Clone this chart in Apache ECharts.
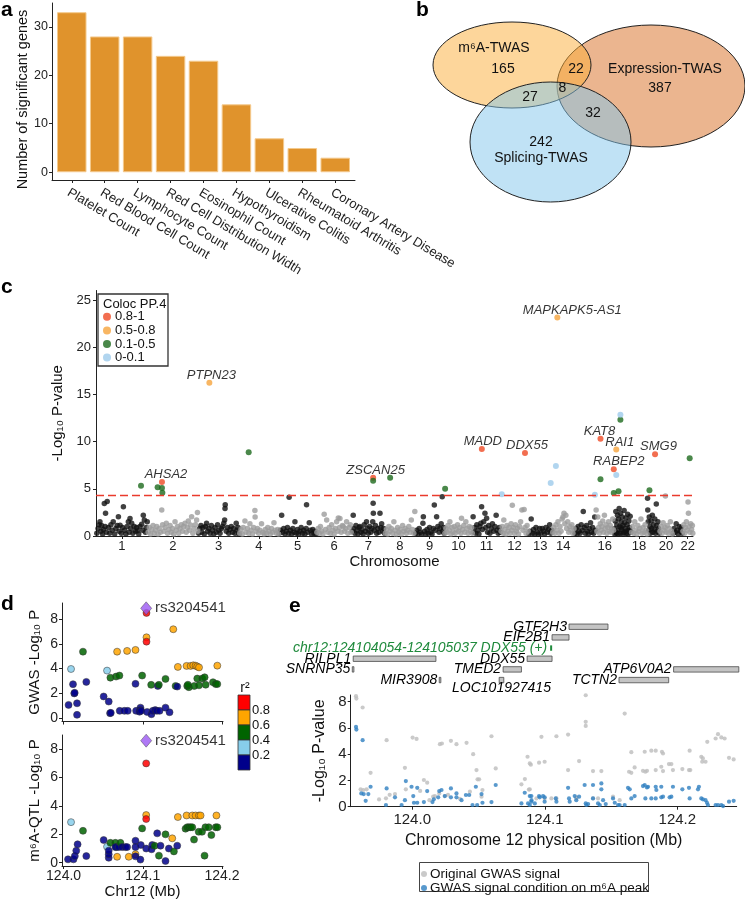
<!DOCTYPE html>
<html>
<head>
<meta charset="utf-8">
<script src="https://cdn.jsdelivr.net/npm/echarts@6/dist/echarts.min.js"></script>
<style>
  html, body { margin: 0; padding: 0; background: #fff; }
  #fig { width: 745px; height: 900px; }
</style>
</head>
<body>
<div id="fig"></div>
<script>
// ---------- panel a : significant genes per trait ----------
const traits = ['Platelet Count', 'Red Blood Cell Count', 'Lymphocyte Count', 'Red Cell Distribution Width',
  'Eosinophil Count', 'Hypothyroidism', 'Ulcerative Colitis', 'Rheumatoid Arthritis', 'Coronary Artery Disease'];
const sigGeneCounts = [33, 28, 28, 24, 23, 14, 7, 5, 3];

// ---------- panel b : venn ----------
const twasSets = ['m⁶A-TWAS', 'Expression-TWAS', 'Splicing-TWAS'];
// m6A only, expression only, splicing only, m6A&expr, m6A&splicing, expr&splicing, all three
const vennCounts = [165, 387, 242, 22, 27, 32, 8];

// ---------- panel c : manhattan ----------
const chrLengthsMb = [249, 243, 198, 191, 181, 171, 159, 146, 141, 136, 135, 134, 115, 107, 102, 90, 81, 78, 59, 63, 48, 51];
const chrLabelled = [1, 2, 3, 4, 5, 6, 7, 8, 9, 10, 11, 12, 13, 14, 16, 18, 20, 22];
const colocClasses = ['0.8-1', '0.5-0.8', '0.1-0.5', '0-0.1'];
const gwThreshold = 4.34;
// [chromosome, position (Mb), -log10 P, coloc class, gene]
const colocSnps = [
  [1, 217, 5.33, 2], [2, 48, 5.16, 2], [2, 69, 5.72, 0, 'AHSA2'], [2, 69, 5.08, 2], [2, 71, 4.59, 2],
  [3, 54.5, 16.24, 1, 'PTPN23'], [4, 46, 8.86, 2], [7, 103, 6.18, 0, 'ZSCAN25'], [7, 103, 5.86, 2],
  [8, 26, 6.18, 2], [10, 4, 5.01, 2], [11, 45, 9.22, 0, 'MADD'], [12, 6, 4.41, 3],
  [12, 118, 8.79, 0, 'DDX55'], [13, 108, 5.61, 3], [14, 18, 7.42, 3], [14, 25, 23.13, 1, 'MAPKAPK5-AS1'],
  [15, 99, 4.38, 3], [16, 24, 10.31, 0, 'KAT8'], [16, 24, 6.0, 2], [16, 88, 7.06, 0, 'RABEP2'],
  [16, 88, 4.56, 2], [17, 10, 9.15, 1, 'RAI1'], [17, 10, 6.46, 3], [17, 21, 4.73, 2],
  [17, 30, 12.85, 3], [17, 30, 12.32, 2], [19, 11, 4.84, 2], [19, 38, 8.65, 0, 'SMG9'], [22, 35, 8.23, 2]
];
// background SNPs per chromosome: [position (Mb), -log10 P]
const bgSnps = [
  [[4,0.3],[10,0.8],[15,1.2],[19,1.5],[24,0.5],[27,1.1],[32,0.2],[36,0.7],[40,3.45],[44,1.0],[46,2.4],[50,0.4],[54,3.65],[60,0.9],[66,0.3],[72,1.2],[78,0.6],[83,1.5],[90,0.2],[96,0.8],[102,1.1],[108,2.05],[112,0.5],[116,1.15],[122,0.3],[128,0.9],[132,3.1],[138,0.6],[144,0.2],[150,1.0],[156,1.5],[160,0.4],[164,1.85],[168,0.8],[172,1.35],[178,0.3],[184,1.0],[190,0.5],[196,0.9],[200,0.55],[206,0.2],[212,1.0],[220,1.25],[225,0.6],[228,2.2],[233,1.7],[238,0.4],[242,0.9],[247,1.5]],
  [[3,0.4],[8,0.9],[14,0.2],[20,0.7],[26,1.1],[32,0.3],[38,0.6],[44,1.0],[50,0.2],[56,0.8],[62,0.4],[68,2.75],[72,1.2],[78,0.5],[84,0.9],[90,1.35],[96,0.3],[102,0.7],[108,1.1],[114,0.4],[120,0.8],[126,0.2],[132,1.5],[138,0.6],[144,1.0],[150,0.3],[156,0.8],[162,1.2],[168,0.5],[174,1.0],[180,1.34],[186,0.4],[192,0.9],[196,1.6],[202,0.6],[207,1.17],[212,2.05],[218,0.3],[224,0.8],[230,1.2],[236,1.7],[240,2.5],[242,0.5]],
  [[3,0.3],[8,0.8],[14,1.1],[18,0.4],[24,0.9],[30,0.2],[36,1.0],[41,1.35],[46,0.5],[52,0.8],[58,0.3],[64,1.1],[70,0.6],[76,0.2],[82,0.9],[88,0.4],[94,1.2],[100,0.6],[106,0.3],[112,0.8],[118,1.0],[124,1.34],[128,1.7],[130,2.9],[131,3.3],[136,0.5],[142,0.9],[148,0.3],[154,0.7],[160,1.0],[166,0.4],[172,0.8],[178,0.3],[184,1.34],[188,0.6],[193,0.9],[197,0.2]],
  [[3,0.3],[9,0.7],[15,0.2],[20,0.9],[28,1.6],[33,0.4],[40,0.8],[46,0.3],[52,1.3],[58,0.6],[64,0.2],[70,0.9],[76,2.7],[77,2.0],[82,0.5],[88,0.8],[94,0.3],[100,0.6],[108,1.3],[114,0.4],[120,0.2],[126,0.7],[132,0.3],[138,0.9],[144,0.5],[150,0.2],[156,0.8],[162,0.4],[168,1.4],[174,0.6],[180,0.3],[186,0.7],[190,0.2]],
  [[3,0.3],[8,0.6],[14,2.2],[18,0.4],[24,0.8],[30,0.2],[36,0.5],[42,0.9],[48,0.3],[50,4.1],[56,0.6],[62,0.2],[68,0.8],[74,0.4],[78,1.5],[84,0.3],[90,0.7],[96,0.2],[102,0.5],[108,0.9],[114,0.3],[120,0.6],[126,0.2],[132,0.8],[134,3.3],[140,0.4],[147,1.4],[152,0.6],[158,0.2],[164,0.7],[170,0.3],[176,0.5],[180,0.2]],
  [[3,0.4],[9,0.8],[14,0.3],[20,1.0],[26,0.5],[32,0.2],[38,2.3],[44,0.7],[50,1.7],[56,0.4],[62,0.9],[68,0.3],[74,1.2],[80,0.6],[86,0.2],[92,0.8],[98,1.5],[104,0.5],[106,1.9],[112,0.9],[114,1.85],[120,0.4],[126,1.1],[130,1.0],[136,0.5],[142,0.8],[146,1.5],[152,0.3],[158,0.9],[164,1.2],[168,0.4]],
  [[3,0.5],[7,2.2],[10,0.8],[15,0.3],[20,1.1],[25,0.6],[30,0.2],[35,0.9],[39,1.0],[44,0.4],[50,0.7],[55,0.2],[60,1.2],[66,0.5],[71,1.5],[76,0.8],[80,0.3],[86,1.0],[92,0.4],[97,0.8],[101,1.5],[103,3.46],[104,2.4],[108,0.6],[114,1.1],[120,0.3],[126,0.8],[131,0.4],[136,2.4],[140,0.9],[144,1.3],[149,0.5],[154,0.8],[158,0.3]],
  [[3,0.3],[8,0.7],[14,0.2],[20,1.0],[26,0.5],[32,0.8],[38,0.3],[44,1.5],[50,0.6],[56,0.2],[62,0.9],[68,0.4],[74,0.7],[80,0.2],[86,1.1],[92,0.5],[98,0.8],[104,0.3],[110,0.6],[116,1.0],[122,0.4],[128,1.7],[134,0.7],[140,0.3],[145,2.6]],
  [[3,0.3],[8,0.6],[14,0.2],[20,0.8],[26,0.4],[32,0.2],[38,1.34],[40,2.05],[46,0.5],[52,0.2],[58,0.7],[64,0.3],[70,0.9],[76,0.4],[82,0.2],[88,0.8],[93,3.28],[98,0.6],[104,2.05],[110,1.0],[116,0.4],[120,0.8],[126,1.3],[131,4.17],[134,0.5],[138,0.9],[140,0.3]],
  [[3,0.3],[8,0.8],[13,0.4],[18,1.1],[24,0.6],[27,1.5],[32,0.2],[37,0.9],[42,0.4],[48,1.0],[53,0.3],[58,0.7],[64,1.2],[69,0.5],[74,0.9],[80,0.3],[83,1.87],[88,0.7],[94,1.1],[99,0.4],[104,1.5],[110,0.8],[115,0.3],[120,1.0],[126,0.5],[131,0.9],[135,0.3]],
  [[3,2.05],[6,0.4],[11,0.9],[16,0.3],[21,1.2],[26,0.6],[31,0.2],[36,1.0],[40,1.34],[44,3.1],[48,0.7],[54,1.5],[60,2.4],[64,0.9],[68,1.87],[73,0.4],[78,1.1],[84,0.3],[90,0.8],[96,1.3],[102,0.5],[108,1.0],[114,2.2],[118,0.6],[124,0.3],[129,0.9],[134,0.4]],
  [[3,0.5],[8,1.0],[13,0.3],[16,1.7],[21,0.7],[26,0.2],[31,1.1],[36,0.5],[41,0.9],[46,0.3],[51,1.3],[55,0.6],[57,3.25],[62,0.9],[67,0.3],[72,1.2],[77,0.5],[82,0.8],[87,0.2],[92,1.0],[97,1.5],[103,2.75],[108,0.6],[114,2.8],[118,0.9],[123,0.3],[128,1.1],[133,0.5]],
  [[3,0.2],[8,0.5],[14,1.8],[19,0.3],[25,0.7],[31,0.2],[37,0.9],[43,0.4],[49,0.2],[55,0.8],[61,0.3],[67,0.8],[73,0.5],[79,0.2],[85,0.9],[91,0.4],[97,0.7],[103,1.2],[108,0.3],[113,0.6]],
  [[3,0.4],[8,0.9],[13,0.3],[18,1.2],[23,0.6],[28,1.5],[33,0.3],[38,1.0],[43,0.5],[48,1.8],[52,2.0],[57,2.4],[61,1.3],[66,2.2],[70,0.8],[75,1.5],[80,0.4],[85,1.0],[90,0.6],[95,1.2],[100,0.3],[105,0.8]],
  [[3,0.3],[8,0.8],[13,0.2],[18,1.0],[23,0.5],[28,0.3],[33,1.2],[38,0.6],[43,2.6],[48,0.9],[53,0.3],[58,1.1],[63,0.5],[68,0.2],[73,0.8],[78,1.4],[83,0.4],[88,0.9],[93,0.3],[98,2.0],[101,0.6]],
  [[3,2.75],[7,0.5],[11,2.0],[15,0.9],[19,0.3],[23,1.3],[27,0.6],[31,1.0],[35,1.6],[39,0.4],[43,2.2],[47,0.8],[51,1.2],[55,0.3],[59,0.9],[63,1.5],[67,0.5],[71,1.1],[75,0.4],[79,0.8],[83,1.8],[87,0.6]],
  [[2,0.8],[3,0.2],[5,1.6],[8,2.6],[10,0.4],[12,0.3],[13,1.2],[16,2.2],[18,0.6],[20,0.2],[21,1.8],[24,2.9],[26,1.0],[29,0.3],[31,2.4],[33,0.9],[34,1.5],[36,0.7],[39,2.0],[42,1.1],[44,0.2],[45,0.4],[48,2.7],[50,1.4],[53,0.8],[55,0.5],[56,1.9],[59,0.3],[62,1.2],[65,2.3],[67,0.2],[68,0.6],[71,1.6],[74,0.9],[76,0.6],[77,2.1],[80,0.4]],
  [[3,0.4],[8,1.0],[13,0.3],[18,1.5],[23,0.6],[28,0.2],[33,1.1],[38,0.5],[43,0.8],[48,1.8],[53,0.3],[58,0.9],[63,0.4],[68,1.2],[73,0.6],[77,0.2]],
  [[2,4.0],[3,2.75],[5,1.5],[8,0.6],[10,2.0],[13,1.0],[16,0.3],[19,1.6],[22,0.8],[25,2.2],[28,0.4],[31,1.2],[34,0.7],[37,1.8],[40,0.3],[44,3.4],[46,1.1],[49,0.5],[52,1.5],[55,0.8],[58,0.3]],
  [[3,0.5],[8,1.0],[13,0.3],[18,1.4],[23,0.6],[27,0.9],[29,4.24],[33,0.4],[38,1.1],[43,0.3],[48,0.8],[53,1.5],[58,0.5],[62,0.2]],
  [[3,0.3],[8,0.8],[13,0.4],[18,1.3],[23,0.6],[28,0.2],[33,1.0],[38,0.5],[43,0.9],[47,0.3]],
  [[3,0.5],[7,1.2],[11,0.3],[15,0.9],[19,1.5],[23,0.6],[27,3.6],[29,2.4],[32,1.0],[36,0.4],[40,1.3],[44,0.7],[48,1.1],[50,0.3]]
];

// ---------- panel d : locus plots, [position (Mb), -log10 P, r2 bin] ----------
const r2Breaks = ['0.2', '0.4', '0.6', '0.8'];
const leadSnp = 'rs3204541';
const leadSnpPos = 124.1043;
const leadGwasP = 8.87;
const leadQtlP = 8.6;
const gwasLocus = [
  [124.0063,1.07,0],[124.0094,3.97,1],[124.0119,2.74,0],[124.0135,2.0,0],[124.0140,2.05,0],[124.017,1.2,0],[124.017,0.27,0],
  [124.0245,5.37,2],[124.0287,2.93,0],[124.0506,1.75,0],[124.0549,3.84,1],[124.057,1.34,0],[124.0591,3.27,2],[124.0587,0.4,0],
  [124.0596,0.43,0],[124.0663,3.36,2],[124.0676,5.37,3],[124.0705,3.44,2],[124.0709,0.59,0],[124.0768,0.59,0],[124.081,0.59,0],
  [124.0802,5.43,3],[124.0908,5.51,3],[124.0908,2.77,0],[124.0916,0.59,0],[124.0971,0.85,0],[124.0971,0.65,0],[124.0963,0.59,0],
  [124.0959,0.52,0],[124.0979,0.59,0],[124.0992,3.44,2],[124.1047,6.53,3],[124.1047,6.18,4],[124.1047,8.5,4],[124.1055,0.5,0],
  [124.1106,2.69,2],[124.1109,0.32,0],[124.1127,0.59,0],[124.1157,0.65,0],[124.1178,0.59,0],[124.1212,0.59,0],[124.119,2.6,0],
  [124.1203,2.69,2],[124.1287,3.17,2],[124.1287,0.85,0],[124.1338,0.48,0],[124.1385,7.18,3],[124.1414,2.6,2],[124.1435,2.55,0],
  [124.1443,4.14,3],[124.1553,4.22,3],[124.1561,2.6,2],[124.1582,2.5,2],[124.157,2.7,2],[124.1604,4.22,3],[124.1638,4.27,3],
  [124.1667,4.24,3],[124.1688,4.17,3],[124.171,4.1,3],[124.165,2.6,2],[124.1688,3.2,2],[124.171,2.65,2],[124.1752,3.2,2],
  [124.1781,3.3,2],[124.1794,2.7,2],[124.1887,2.9,2],[124.1921,2.75,2],[124.1941,2.75,2],[124.1941,4.24,3]
];
const qtlLocus = [
  [124.0056,0.24,0],[124.0094,2.86,1],[124.0125,0.24,0],[124.0142,0.47,0],[124.016,0.85,0],[124.0177,1.3,0],[124.0245,2.25,2],
  [124.0287,0.47,0],[124.0506,1.6,0],[124.0549,1.13,1],[124.057,0.35,0],[124.057,0.6,0],[124.057,0.85,0],[124.0591,1.4,2],
  [124.0654,1.4,2],[124.0667,1.1,2],[124.0676,0.42,3],[124.0654,1.1,0],[124.0697,1.1,0],[124.0718,1.4,2],[124.074,1.1,0],
  [124.078,1.1,0],[124.0802,1.1,0],[124.0823,0.42,3],[124.0908,1.55,0],[124.0908,0.6,3],[124.0908,0.45,0],[124.0908,1.1,0],
  [124.097,0.22,0],[124.0992,2.42,2],[124.0975,1.25,0],[124.1043,7.0,4],[124.1043,3.36,3],[124.1043,3.08,4],[124.1043,1.0,0],
  [124.1111,0.95,0],[124.1119,1.25,0],[124.1182,2.07,0],[124.115,1.2,2],[124.1204,0.5,2],[124.1224,1.2,0],[124.1287,2.0,2],
  [124.1287,0.12,0],[124.1329,1.0,0],[124.1372,1.72,3],[124.1393,0.8,2],[124.1435,1.2,0],[124.1443,3.22,3],[124.154,2.4,2],
  [124.1561,2.5,2],[124.1583,2.5,2],[124.1604,2.5,2],[124.1625,2.5,2],[124.1553,3.33,3],[124.1625,3.33,3],[124.1667,3.33,3],
  [124.1709,3.33,3],[124.173,3.33,3],[124.1647,1.63,2],[124.1706,2.18,2],[124.1748,2.18,2],[124.178,0.5,2],[124.1791,2.5,2],
  [124.1833,2.5,2],[124.1866,1.95,2],[124.1921,2.5,2],[124.1942,2.5,2],[124.193,3.33,3]
];

// ---------- panel e : conditional analysis ----------
const trackGenes = ['GTF2H3', 'EIF2B1', 'RILPL1', 'DDX55', 'SNRNP35', 'TMED2', 'ATP6V0A2', 'MIR3908', 'TCTN2', 'LOC101927415'];
const trackStart = [124.1183, 124.1055, 123.9555, 124.0867, 123.9548, 124.0686, 124.1972, 124.0204, 124.1560, 124.0656];
const trackEnd   = [124.1477, 124.1183, 124.0179, 124.1055, 123.9558, 124.0824, 124.2464, 124.0214, 124.1935, 124.0691];
const trackRow   = [0, 1, 3, 3, 4, 4, 4, 5, 5, 5];
const m6aPeak = ['chr12:124104054-124105037 DDX55 (+)', 124.104054, 124.105037, 2];
const gwasOriginal = [
  [123.9576,8.41],[123.9579,8.23],[123.9626,7.55],[123.9686,2.58],[123.9611,1.32],[123.9631,1.27],[123.9656,1.32],[123.9807,5.06],
  [123.9802,0.64],[123.987,0.96],[123.9945,2.96],[123.9952,1.32],[124.0003,5.26],[124.0033,5.16],[124.0088,2.03],[124.0113,1.83],
  [124.0158,0.76],[124.0171,0.81],[124.0209,4.76],[124.0224,4.81],[124.0204,1.01],[124.0246,0.81],[124.0292,5.01],[124.0334,4.76],
  [124.041,4.86],[124.046,4.0],[124.0485,2.79],[124.0493,2.08],[124.0505,2.08],[124.053,1.27],[124.0598,5.36],[124.063,2.91],
  [124.0435,1.14],[124.0523,0.76],[123.975,0.55],[123.983,0.9],[124.006,1.2],[124.013,0.5],[124.027,0.9],[124.036,0.6],
  [124.0824,1.7],[124.085,2.1],[124.087,3.8],[124.0895,3.2],[124.088,1.3],
  [124.1302,8.86],[124.1309,8.48],[124.1309,6.46],[124.1309,6.15],[124.1603,7.09],[124.0975,5.32],[124.1088,5.36],[124.1176,5.49],
  [124.1259,3.47],[124.1176,2.79],[124.1364,2.71],[124.1427,2.71],[124.0887,3.29],[124.0957,3.35],[124.0999,3.42],[124.1653,4.15],
  [124.1678,2.99],[124.1636,2.66],[124.1653,2.58],[124.1754,4.18],[124.1804,4.26],[124.1837,4.26],[124.1884,4.18],[124.1892,4.05],
  [124.1741,2.73],[124.1771,2.73],[124.1759,2.66],[124.1837,2.79],[124.1879,3.04],[124.1892,2.71],[124.1937,3.24],[124.1955,3.24],
  [124.1967,2.79],[124.2038,2.86],[124.2088,2.79],[124.2098,2.79],[124.2093,4.26],[124.2181,3.8],[124.2193,3.67],[124.2213,3.42],
  [124.2188,3.42],[124.2226,4.94],[124.2289,5.19],[124.2307,5.52],[124.2332,5.27],[124.2357,5.19],[124.239,3.72],[124.2425,3.6],
  [124.1238,0.63],[124.1238,0.71],[124.1364,0.63],[124.1402,0.63],[124.1515,0.76],[124.1565,0.5],[124.0887,1.32],[124.0937,0.63],
  [124.0999,0.63],[124.105,0.63],[124.1088,0.63]
];
const gwasConditioned = [
  [123.9576,6.07],[123.9579,5.87],[123.9626,5.06],[123.9616,1.01],[123.9634,0.96],[123.9649,0.45],[123.9686,1.52],[123.9669,0.96],
  [123.9807,1.39],[123.9802,0.13],[123.987,0.71],[123.992,0.13],[123.9945,0.5],[123.9952,1.95],[123.9995,1.52],[124.0008,0.81],
  [124.0013,0.3],[124.0038,1.44],[124.0038,0.3],[124.0113,1.19],[124.0088,0.35],[124.0153,0.35],[124.0163,0.56],[124.0196,0.71],
  [124.0204,1.19],[124.0221,1.27],[124.0246,0.81],[124.0292,1.39],[124.0292,0.71],[124.0334,1.01],[124.0334,0.71],[124.0372,0.5],
  [124.0405,0.89],[124.043,0.89],[124.0455,0.13],[124.048,1.52],[124.049,0.13],[124.0523,0.96],[124.053,0.3],[124.0598,0.35],
  [124.063,1.65],[124.0824,0.25],[124.0849,1.06],[124.0874,0.25],[124.0899,0.81],[124.0887,0.13],[124.09,0.5],[124.0925,0.25],
  [124.0887,0.81],[124.0899,0.38],[124.0957,0.81],[124.0962,0.71],[124.0987,0.81],[124.0999,0.71],[124.0999,0.38],[124.1083,0.63],
  [124.1088,0.38],[124.1176,1.44],[124.1183,0.63],[124.1188,0.38],[124.1226,0.81],[124.1238,0.5],[124.1259,0.76],[124.1301,1.65],
  [124.1309,0.25],[124.1314,0.13],[124.1327,0.2],[124.1364,1.65],[124.1364,0.63],[124.1402,0.25],[124.1415,0.13],[124.1427,1.77],
  [124.1427,1.32],[124.144,0.5],[124.146,0.2],[124.1515,0.63],[124.1528,0.3],[124.1553,0.13],[124.1565,0.13],[124.1603,0.13],
  [124.1628,1.44],[124.1641,1.32],[124.1653,0.63],[124.1678,0.81],[124.1741,1.57],[124.1754,1.65],[124.1771,1.47],[124.1779,1.52],
  [124.1759,0.63],[124.1804,0.63],[124.1837,0.63],[124.1837,1.52],[124.1842,1.27],[124.1879,1.52],[124.1879,0.71],[124.1892,0.76],
  [124.1942,0.71],[124.1955,0.76],[124.1967,1.52],[124.2038,1.32],[124.2088,1.44],[124.2093,0.63],[124.2156,1.32],[124.2163,1.52],
  [124.2181,0.63],[124.2193,0.56],[124.2213,0.5],[124.2224,0.3],[124.2231,0.13],[124.2289,0.13],[124.2307,0.13],[124.2332,0.13],
  [124.2345,0.05],[124.239,0.38],[124.2425,0.45]
];

// ---------- styles ----------
const FONT = "'Liberation Sans', Arial, sans-serif";
const NARROW = "'Liberation Sans Narrow', 'Liberation Sans', Arial, sans-serif";
const INK = '#111111';
const colocColors = ['#ef4a24', '#f6a43c', '#1d6a1d', '#9dcbeb'];
const r2Colors = ['#00008b', '#87ceeb', '#006400', '#ffa500', '#ff0000'];
const labelShift = { 'MAPKAPK5-AS1': 15, 'AHSA2': 4, 'PTPN23': 2, 'ZSCAN25': 2.5, 'MADD': 1, 'DDX55': 2, 'KAT8': -1, 'RAI1': 3.5, 'SMG9': 3.5, 'RABEP2': 5 };

const chart = echarts.init(document.getElementById('fig'), null, { renderer: 'canvas' });

const chrStart = [];
chrLengthsMb.reduce((acc, len, i) => { chrStart[i] = acc; return acc + len; }, 0);
const genomeMb = chrLengthsMb.reduce((a, b) => a + b, 0);
const gx = (chr, pos) => chrStart[chr - 1] + pos;
const chrCenters = chrLabelled.map(c => chrStart[c - 1] + chrLengthsMb[c - 1] / 2);
const centerName = {};
chrLabelled.forEach((c, i) => { centerName[String(chrCenters[i])] = String(c); });

const bgOdd = [], bgEven = [];
bgSnps.forEach((list, i) => list.forEach(p => (i % 2 === 0 ? bgOdd : bgEven).push([gx(i + 1, p[0]), p[1]])));

function axis(o) {
  const ax = {
    type: 'value', gridIndex: o.grid, min: o.min, max: o.max, inverse: !!o.inverse, show: o.show !== false,
    name: o.name || '', nameLocation: 'middle', nameGap: o.nameGap || 20,
    nameTextStyle: Object.assign({ color: INK, fontSize: 14, fontFamily: FONT }, o.nameStyle || {}),
    axisLine: { show: true, onZero: false, lineStyle: { color: '#222', width: 1 } },
    axisTick: { show: !!(o.ticks || o.interval), customValues: o.ticks, length: 3, lineStyle: { color: '#222', width: 1 } },
    axisLabel: Object.assign({ show: !!(o.labels || o.interval), customValues: o.labels, color: '#222', fontSize: 13, fontFamily: FONT,
      margin: 4, showMinLabel: true, showMaxLabel: true, hideOverlap: false }, o.label || {}),
    splitLine: { show: false }
  };
  if (o.interval) ax.interval = o.interval;
  return ax;
}

const locusRange = { min: 123.998, max: 124.2013 };
const eRange = { min: 123.9536, max: 124.2448 };
const mbTicks = [124.0, 124.1, 124.2];
const d_yTicks = [0, 2, 4, 6, 8];

const xAxes = [
  axis({ grid: 0, min: -0.6, max: 8.6, ticks: traits.map((t, i) => i), labels: traits.map((t, i) => i),
    label: { rotate: -31, formatter: v => traits[v], fontSize: 13, margin: 6, verticalAlign: 'top', align: 'left' } }),
  axis({ grid: 1, min: 0, max: genomeMb, ticks: chrCenters, labels: chrCenters, name: 'Chromosome', nameGap: 17,
    nameStyle: { fontSize: 15, fontFamily: NARROW },
    label: { formatter: v => centerName[String(v)] || '', fontFamily: NARROW, fontSize: 13, margin: 4 } }),
  axis({ grid: 2, min: locusRange.min, max: locusRange.max, ticks: mbTicks }),
  axis({ grid: 3, min: locusRange.min, max: locusRange.max, ticks: mbTicks, labels: mbTicks, name: 'Chr12 (Mb)', nameGap: 18,
    nameStyle: { fontSize: 15 }, label: { fontSize: 14, margin: 3, formatter: v => v.toFixed(1) } }),
  axis({ grid: 4, min: eRange.min, max: eRange.max, show: false }),
  axis({ grid: 5, min: eRange.min, max: eRange.max, ticks: mbTicks, labels: mbTicks,
    name: 'Chromosome 12 physical position (Mb)', nameGap: 26, nameStyle: { fontSize: 16 },
    label: { fontSize: 15, margin: 6, formatter: v => v.toFixed(1) } })
];
const yAxes = [
  axis({ grid: 0, min: -1.6, max: 34.9, ticks: [0, 10, 20, 30], labels: [0, 10, 20, 30],
    name: 'Number of significant genes', nameGap: 20, nameStyle: { fontSize: 14.5, padding: [0, 16, 0, 0] },
    label: { fontSize: 12.5 } }),
  axis({ grid: 1, min: 0, max: 26, interval: 5,
    name: '-Log₁₀ P-value', nameGap: 30, nameStyle: { fontSize: 15 },
    label: { fontSize: 13, fontFamily: NARROW, margin: 5, showMaxLabel: false, formatter: v => (v % 5 === 0 ? String(v) : '') } }),
  axis({ grid: 2, min: -0.27, max: 9.3, ticks: d_yTicks, labels: d_yTicks, name: 'GWAS -Log₁₀ P', nameGap: 20,
    nameStyle: { fontSize: 15 }, label: { fontSize: 14, margin: 4 } }),
  axis({ grid: 3, min: -0.23, max: 9.0, ticks: d_yTicks, labels: d_yTicks, name: 'm⁶A-QTL -Log₁₀ P', nameGap: 20,
    nameStyle: { fontSize: 15 }, label: { fontSize: 14, margin: 4 } }),
  axis({ grid: 4, min: -0.5, max: 5.5, inverse: true, show: false }),
  axis({ grid: 5, min: 0, max: 8.5, ticks: d_yTicks, labels: d_yTicks, name: '-Log₁₀ P-value', nameGap: 16,
    nameStyle: { fontSize: 16 }, label: { fontSize: 15, margin: 4 } })
];
// y axis of panel c: hide the tick at the axis end (26) so only 0..25 are marked
yAxes[1].axisTick.customValues = [0, 5, 10, 15, 20, 25];

const grids = [
  { left: 52, top: 3, width: 303, height: 177 },
  { left: 96, top: 290.5, width: 597, height: 245.5 },
  { left: 62, top: 603, width: 161, height: 118.5 },
  { left: 62, top: 735, width: 161, height: 131 },
  { left: 350.7, top: 621.4, width: 386, height: 64 },
  { left: 350.7, top: 695, width: 386, height: 111.7 }
].map(g => Object.assign({ outerBoundsMode: 'none', containLabel: false, show: false }, g));

// ---- series ----
const series = [];

series.push({
  type: 'bar', xAxisIndex: 0, yAxisIndex: 0, barWidth: 29.5,
  data: sigGeneCounts.map((v, i) => [i, v]),
  itemStyle: { color: '#e0932c', borderColor: '#f4c98c', borderWidth: 1 }
});

series.push({
  type: 'scatter', xAxisIndex: 1, yAxisIndex: 1, symbolSize: 5.5, data: bgOdd, z: 2,
  itemStyle: { color: '#111111' },
  markLine: {
    silent: true, symbol: 'none', label: { show: false },
    lineStyle: { color: '#ea3b2c', type: [8, 4], width: 1.4 },
    data: [{ yAxis: gwThreshold }]
  }
});
series.push({ type: 'scatter', xAxisIndex: 1, yAxisIndex: 1, symbolSize: 5.5, data: bgEven, z: 2, itemStyle: { color: '#9c9c9c' } });

colocClasses.forEach((name, k) => {
  series.push({
    name, type: 'scatter', xAxisIndex: 1, yAxisIndex: 1, symbolSize: 6, z: 3,
    itemStyle: { color: colocColors[k] },
    label: { position: 'top', distance: 1, fontStyle: 'italic', fontSize: 13, color: '#000', fontFamily: NARROW },
    data: colocSnps.filter(s => s[3] === k).map(s => {
      const value = [gx(s[0], s[1]), s[2]];
      if (!s[4]) return value;
      return { value, label: { show: true, formatter: s[4], offset: [labelShift[s[4]] || 2, 3] } };
    })
  });
});

function locusSeries(data, xi, yi) {
  return {
    type: 'scatter', xAxisIndex: xi, yAxisIndex: yi, symbolSize: 7, z: 3,
    data,
    itemStyle: { color: p => r2Colors[p.data[2]], borderColor: '#333', borderWidth: 0.6, opacity: 0.85 }
  };
}
series.push(locusSeries(gwasLocus, 2, 2));
series.push(locusSeries(qtlLocus, 3, 3));
[[2, leadGwasP], [3, leadQtlP]].forEach(([idx, p]) => {
  series.push({
    type: 'scatter', xAxisIndex: idx, yAxisIndex: idx, symbol: 'diamond', symbolSize: [11, 13], z: 4,
    data: [[leadSnpPos, p]],
    itemStyle: { color: '#9b58f2', borderColor: '#444', borderWidth: 0.6 },
    label: { show: true, position: 'right', distance: 3, formatter: leadSnp, fontSize: 15, color: '#000', fontFamily: FONT }
  });
});

series.push({
  type: 'custom', xAxisIndex: 4, yAxisIndex: 4, clip: false, z: 3,
  data: trackGenes.map((g, i) => [trackStart[i], trackEnd[i], trackRow[i]]),
  encode: { x: [0, 1], y: 2 },
  renderItem: (params, api) => {
    const s = api.coord([api.value(0), api.value(2)]);
    const e = api.coord([api.value(1), api.value(2)]);
    const w = Math.max(e[0] - s[0], 1.6);
    const name = trackGenes[params.dataIndex];
    const below = name === 'LOC101927415';
    return {
      type: 'group', children: [
        { type: 'rect', shape: { x: s[0], y: s[1] - 2.7, width: w, height: 5.4 },
          style: { fill: '#c4c4c4', stroke: '#4a4a4a', lineWidth: 0.8 } },
        { type: 'text', style: { text: name, x: below ? s[0] + w / 2 : s[0] - 2, y: below ? s[1] + 8.5 : s[1],
          align: below ? 'center' : 'right', verticalAlign: 'middle', fill: '#000',
          font: 'italic 14px ' + FONT } }
      ]
    };
  }
});
series.push({
  type: 'custom', xAxisIndex: 4, yAxisIndex: 4, clip: false, z: 3,
  data: [[m6aPeak[1], m6aPeak[2], m6aPeak[3]]],
  encode: { x: [0, 1], y: 2 },
  renderItem: (params, api) => {
    const s = api.coord([api.value(0), api.value(2)]);
    const e = api.coord([api.value(1), api.value(2)]);
    const w = Math.max(e[0] - s[0], 2);
    return {
      type: 'group', children: [
        { type: 'rect', shape: { x: s[0], y: s[1] - 2.7, width: w, height: 5.4 }, style: { fill: '#1f8a3c' } },
        { type: 'text', style: { text: m6aPeak[0], x: s[0] - 3, y: s[1], align: 'right', verticalAlign: 'middle',
          fill: '#1f8a3c', font: 'italic 14px ' + FONT } }
      ]
    };
  }
});

series.push({ name: 'Original GWAS signal', type: 'scatter', xAxisIndex: 5, yAxisIndex: 5, symbolSize: 4.2,
  data: gwasOriginal, itemStyle: { color: '#bdbdbd' }, z: 2 });
series.push({ name: 'GWAS signal condition on m⁶A peak', type: 'scatter', xAxisIndex: 5, yAxisIndex: 5, symbolSize: 4.2,
  data: gwasConditioned, itemStyle: { color: '#2f7fc1' }, z: 3 });

// ---- graphic: panel letters, venn, legend frames, colour bar ----
const graphics = [];
[['a', 1, 0], ['b', 416, 0], ['c', 1, 277], ['d', 1, 594], ['e', 289, 596]].forEach(([t, x, y]) => {
  graphics.push({ type: 'text', x, y, style: { text: t, font: 'bold 21px ' + FONT, fill: '#000', verticalAlign: 'top' } });
});

const vennShapes = [
  { cx: 651, cy: 86, rx: 94, ry: 61, fill: 'rgba(215,107,31,0.5)' },
  { cx: 512, cy: 65, rx: 79, ry: 43, fill: 'rgba(251,173,55,0.5)' },
  { cx: 550.5, cy: 142, rx: 80.5, ry: 60, fill: 'rgba(129,197,235,0.5)' }
];
vennShapes.forEach(v => graphics.push({
  type: 'ellipse', shape: { cx: v.cx, cy: v.cy, rx: v.rx, ry: v.ry },
  style: { fill: v.fill, stroke: '#222', lineWidth: 1 }
}));
const vennText = [
  [twasSets[0], 494, 48.5], [String(vennCounts[0]), 503, 69],
  [twasSets[1], 665, 69], [String(vennCounts[1]), 660, 88.5],
  [String(vennCounts[2]), 541, 142.5], [twasSets[2], 541, 158.5],
  [String(vennCounts[3]), 576, 69], [String(vennCounts[4]), 530, 97],
  [String(vennCounts[5]), 593, 113.5], [String(vennCounts[6]), 562.5, 88.5]
];
vennText.forEach(([t, x, y]) => graphics.push({
  type: 'text', x, y, z: 10,
  style: { text: t, font: '14px ' + FONT, fill: INK, align: 'center', verticalAlign: 'middle' }
}));

graphics.push({ type: 'rect', z: 3, shape: { x: 98, y: 294, width: 70, height: 72 },
  style: { fill: '#fff', stroke: '#333', lineWidth: 1.3 } });
graphics.push({ type: 'text', z: 10, x: 103, y: 304,
  style: { text: 'Coloc PP.4', font: '13px ' + NARROW, fill: INK, verticalAlign: 'middle' } });

graphics.push({ type: 'rect', z: 3, shape: { x: 419.5, y: 862.5, width: 229, height: 29 },
  style: { fill: '#fff', stroke: '#444', lineWidth: 1 } });

// r2 colour bar (top = high r2)
graphics.push({ type: 'text', x: 245, y: 688, z: 10,
  style: { text: 'r²', font: '14px ' + FONT, fill: INK, align: 'center', verticalAlign: 'middle' } });
r2Colors.slice().reverse().forEach((c, i) => graphics.push({
  type: 'rect', z: 10, shape: { x: 238, y: 695 + i * 15, width: 12, height: 15 },
  style: { fill: c, stroke: '#333', lineWidth: 0.8 }
}));
r2Breaks.slice().reverse().forEach((t, i) => graphics.push({
  type: 'text', z: 10, x: 252, y: 710 + i * 15,
  style: { text: t, font: '13px ' + FONT, fill: INK, verticalAlign: 'middle' }
}));

chart.setOption({
  animation: false,
  backgroundColor: '#fff',
  textStyle: { fontFamily: FONT },
  grid: grids,
  xAxis: xAxes,
  yAxis: yAxes,
  legend: [
    { data: colocClasses, orient: 'vertical', left: 103, top: 310, itemWidth: 8, itemHeight: 8, itemGap: 0,
      icon: 'circle', selectedMode: false, padding: 0, z: 11,
      textStyle: { fontSize: 13, fontFamily: NARROW, color: INK, lineHeight: 13.6, padding: [0, 0, 0, -1] } },
    { data: ['Original GWAS signal', 'GWAS signal condition on m⁶A peak'], orient: 'vertical', left: 421, top: 867,
      itemWidth: 6, itemHeight: 6, itemGap: 0, icon: 'circle', selectedMode: false, padding: 0, z: 11,
      textStyle: { fontSize: 13.5, fontFamily: FONT, color: INK, lineHeight: 11, padding: [0, 0, 0, -2] } }
  ],
  graphic: { elements: graphics },
  series
});
</script>
</body>
</html>
